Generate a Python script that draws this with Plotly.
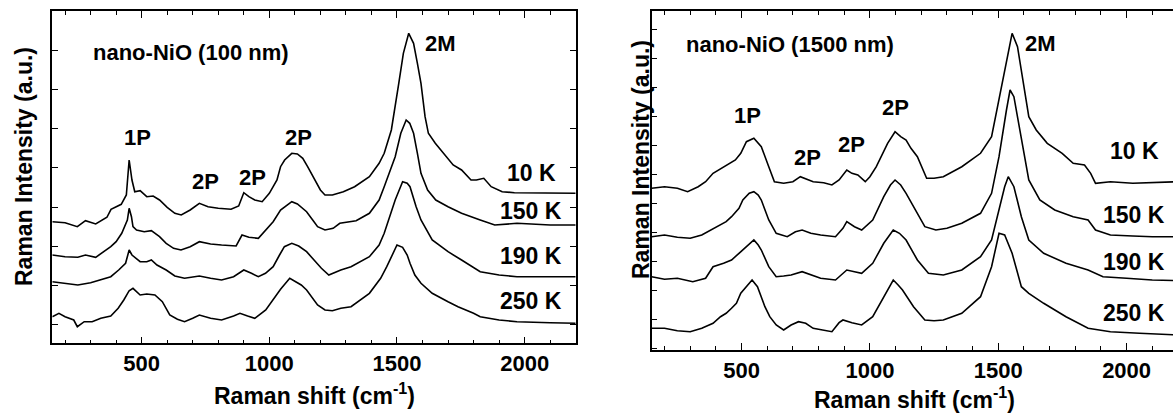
import plotly.graph_objects as go

# ---------------- Left panel: nano-NiO (100 nm) ----------------
L10_x = [150,200,248,280,320,364,380,420,440,451,462,473,494,520,545,570,600,630,655,690,726,760,800,850,880,900,920,943,972,1000,1030,1044,1060,1088,1110,1131,1150,1175,1200,1218,1247,1290,1334,1392,1430,1450,1478,1507,1525,1546,1565,1580,1594,1610,1623,1650,1681,1720,1753,1790,1811,1840,1869,1912,1960,2050,2200]
L10_y = [12.16,12.06,11.66,12.26,11.93,12.6,13.4,13.9,14.83,18.33,16.33,15.16,15.26,14.66,14.73,14.33,13.6,13.0,12.83,13.33,14.0,13.66,13.5,13.4,13.73,15.06,14.66,14.33,14.16,15.0,16.33,17.66,18.33,19.0,18.93,18.5,17.66,16.5,15.33,14.83,14.83,15.16,15.66,16.66,18.0,19.0,21.33,26.0,29.0,31.0,30.0,28.0,26.0,22.66,21.0,20.0,19.0,17.83,17.33,16.33,16.33,16.5,15.66,15.16,15.06,15.06,15.0]

L150_x = [150,200,250,280,320,379,400,422,444,451,460,466,480,510,538,570,596,625,654,690,726,770,813,870,893,920,957,986,1015,1044,1088,1110,1146,1175,1189,1218,1250,1276,1340,1392,1430,1450,1493,1515,1536,1550,1565,1580,1594,1620,1652,1700,1753,1826,1883,1970,2100,2200]
L150_y = [8.83,8.66,8.6,8.83,8.6,9.66,10.16,11.0,12.33,13.5,12.66,11.66,11.33,11.16,11.26,10.66,10.0,9.5,9.33,9.66,10.16,9.93,9.83,9.73,10.83,10.6,10.5,11.33,12.16,13.33,14.16,13.93,13.16,12.16,11.66,11.33,11.5,12.0,12.26,13.0,14.33,15.66,18.66,21.0,22.33,22.0,21.0,19.0,17.0,15.33,14.33,13.66,13.0,12.33,11.83,12.0,11.83,11.83]

L190_x = [150,200,250,300,340,379,410,437,451,462,494,520,538,560,596,630,668,700,726,770,813,860,900,930,957,985,1015,1040,1059,1088,1115,1146,1175,1204,1233,1280,1320,1392,1430,1450,1493,1510,1522,1540,1551,1575,1594,1638,1700,1753,1826,1900,1970,2100,2200]
L190_y = [6.16,6.0,5.83,6.06,6.33,6.66,7.33,8.0,9.33,8.83,8.16,8.16,8.33,7.83,7.33,6.73,6.5,6.66,6.73,6.5,6.33,6.66,7.33,7.0,6.66,7.0,7.66,8.83,9.66,10.0,9.73,9.16,8.33,7.5,6.83,7.33,7.66,8.66,9.83,11.0,14.33,15.5,16.16,16.0,15.66,13.66,12.33,10.33,9.16,8.33,7.16,6.83,6.66,6.66,6.66]

L250_x = [150,176,200,234,248,275,306,340,379,408,430,451,466,480,494,520,552,581,610,640,668,700,726,770,813,860,885,915,943,986,1015,1044,1080,1102,1125,1146,1175,1189,1218,1247,1280,1320,1392,1436,1460,1479,1500,1522,1540,1551,1570,1594,1638,1700,1739,1800,1826,1900,1970,2100,2200]
L250_y = [2.66,3.0,2.66,2.33,1.66,2.16,2.16,2.5,2.73,3.5,4.33,5.26,5.5,5.16,4.83,4.93,4.83,4.16,2.83,2.4,2.16,2.5,2.83,2.5,2.33,2.73,3.0,2.73,2.5,3.33,4.33,5.4,6.5,6.16,5.83,5.33,4.33,3.83,3.33,3.26,3.5,3.66,5.0,6.5,7.66,8.66,9.83,9.6,8.83,8.0,6.83,6.0,5.0,4.16,3.66,3.0,2.66,2.33,2.16,2.06,2.0]

# ---------------- Right panel: nano-NiO (1500 nm) ----------------
R10_x = [150,200,250,290,331,360,389,432,476,497,519,548,565,577,606,628,664,700,729,779,820,852,880,910,930,953,982,1000,1025,1069,1098,1120,1141,1160,1185,1221,1250,1286,1358,1431,1474,1503,1532,1554,1575,1597,1619,1648,1691,1749,1792,1836,1860,1879,1937,2024,2100,2200]
R10_y = [16.17,16.33,16.17,15.83,16.33,16.83,17.67,18.33,19.0,19.67,20.83,21.17,20.73,20.33,18.33,16.83,16.67,16.83,17.33,16.83,16.73,16.5,17.0,18.0,17.67,17.5,16.83,17.33,18.33,20.67,21.83,21.33,21.0,20.17,19.33,17.17,17.17,17.33,18.33,19.67,21.33,25.0,29.0,31.67,30.33,26.67,23.33,22.0,20.67,19.67,18.67,18.5,17.67,16.67,16.83,16.67,16.73,16.83]

R150_x = [150,200,250,300,345,403,440,461,490,505,530,548,565,577,606,635,678,710,736,770,808,866,895,910,940,968,1011,1054,1080,1098,1120,1141,1185,1214,1257,1300,1358,1431,1474,1503,1532,1546,1561,1590,1619,1662,1720,1792,1850,1879,1937,2024,2100,2200]
R150_y = [11.33,11.5,11.27,11.17,11.5,12.33,12.83,13.33,14.17,15.0,15.67,15.83,15.5,15.0,13.0,11.67,11.33,11.83,12.0,11.67,11.5,11.33,12.17,12.83,12.33,12.0,13.0,15.33,16.5,17.0,16.5,15.67,13.67,12.33,12.0,12.17,12.67,13.67,15.67,19.33,24.0,26.0,25.33,21.0,17.0,15.0,14.0,13.33,13.0,12.0,11.5,11.4,11.33,11.33]

R190_x = [150,200,250,310,360,389,430,461,490,519,548,565,577,606,635,664,693,736,770,808,866,910,940,968,1011,1054,1091,1115,1141,1185,1228,1286,1358,1431,1474,1503,1525,1539,1561,1590,1619,1677,1764,1850,1908,2000,2100,2200]
R190_y = [7.33,7.07,7.17,6.83,7.17,8.33,8.67,9.0,9.67,10.33,11.0,10.5,10.0,8.33,7.33,7.4,7.5,7.83,7.5,7.17,7.0,8.0,7.83,7.67,8.67,10.67,12.0,11.67,11.0,9.0,7.67,7.5,8.0,9.33,11.0,14.0,16.33,17.33,16.33,13.33,11.0,9.67,8.67,8.0,7.33,7.17,7.0,6.93]

R250_x = [150,200,250,300,345,389,418,440,461,480,497,519,541,562,591,610,635,664,693,722,750,779,820,852,880,895,930,968,1011,1054,1091,1110,1127,1170,1214,1250,1286,1358,1431,1474,1503,1525,1554,1590,1619,1677,1764,1850,1937,2050,2200]
R250_y = [2.17,2.17,1.93,1.83,2.17,2.67,3.33,3.67,4.17,4.67,5.67,6.33,7.0,6.33,4.33,3.33,2.5,2.0,2.5,2.83,2.67,2.17,2.0,1.83,2.73,3.0,2.73,2.5,3.33,5.33,7.0,6.5,6.0,4.33,3.0,2.93,3.0,3.67,5.33,8.33,11.67,11.5,9.67,6.33,5.67,4.67,3.33,2.17,1.83,1.67,1.5]

temps = ["10 K", "150 K", "190 K", "250 K"]
x_tickvals = [500, 1000, 1500, 2000]
x_ticktext = ["500", "1000", "1500", "2000"]

W, H = 1173, 414
FONT = "Arial, 'Liberation Sans', sans-serif"

def px(x):
    return x / W

def py(y):
    return 1 - y / H

fig = go.Figure()

left_series = [(L10_x, L10_y), (L150_x, L150_y), (L190_x, L190_y), (L250_x, L250_y)]
right_series = [(R10_x, R10_y), (R150_x, R150_y), (R190_x, R190_y), (R250_x, R250_y)]

for (xs, ys), t in zip(left_series, temps):
    fig.add_trace(go.Scatter(x=xs, y=ys, mode="lines", name=t, xaxis="x", yaxis="y",
                             line=dict(color="black", width=1.6), showlegend=False, hoverinfo="skip"))
for (xs, ys), t in zip(right_series, temps):
    fig.add_trace(go.Scatter(x=xs, y=ys, mode="lines", name=t, xaxis="x2", yaxis="y2",
                             line=dict(color="black", width=1.6), showlegend=False, hoverinfo="skip"))

common_x = dict(showgrid=False, zeroline=False, showline=True, linecolor="black", linewidth=1.5,
                ticks="inside", ticklen=7, tickwidth=1.2, tickcolor="black",
                tickvals=x_tickvals, ticktext=x_ticktext,
                tickfont=dict(family=FONT, size=22, color="black", weight="bold"),
                minor=dict(dtick=100, tick0=0, ticks="inside", ticklen=4, tickwidth=1.2, tickcolor="black"),
                ticklabelstandoff=0)
common_y = dict(showgrid=False, zeroline=False, showline=True, linecolor="black", linewidth=1.5,
                ticks="inside", ticklen=6, tickwidth=1.2, tickcolor="black",
                showticklabels=False)

fig.update_layout(
    width=W, height=H,
    margin=dict(l=0, r=0, t=0, b=0),
    paper_bgcolor="white", plot_bgcolor="white",
    xaxis=dict(domain=[px(52.3), px(575.7)], range=[150, 2200], anchor="y", mirror="ticks", **common_x),
    yaxis=dict(domain=[py(343.3), py(11)], range=[0, 33.23], anchor="x", mirror="ticks",
               tickmode="linear", tick0=1.897, dtick=3.909, **common_y),
    xaxis2=dict(domain=[px(651.7), 1.0], range=[150, 150 + (W - 651.7) / 0.2567], anchor="y2", mirror="ticks", **common_x),
    yaxis2=dict(domain=[py(350), py(11)], range=[0, 33.9], anchor="x2", mirror=False,
                tickmode="linear", tick0=3.07, dtick=2.9, **common_y),
)

def ann(text, x, y, size=22):
    fig.add_annotation(text=f"<b>{text}</b>", x=px(x), y=py(y), xref="paper", yref="paper",
                       showarrow=False, xanchor="center", yanchor="middle",
                       font=dict(family=FONT, size=size, color="black"))

# Left panel texts
ann("nano-NiO (100 nm)", 191, 52)
ann("1P", 137, 137)
ann("2P", 205, 182)
ann("2P", 252, 177)
ann("2P", 298, 137)
ann("2M", 441, 43)
for t, yy in zip(temps, [173, 211, 256, 301]):
    ann(t, 531, yy, 23)
ann("Raman shift (cm<sup>-1</sup>)", 314, 394, 23)
fig.add_annotation(text="<b>Raman Intensity (a.u.)</b>", x=px(24), y=py(167), xref="paper", yref="paper",
                   showarrow=False, textangle=-90, xanchor="center", yanchor="middle",
                   font=dict(family=FONT, size=23, color="black"))

# Right panel texts
ann("nano-NiO (1500 nm)", 790, 44)
ann("1P", 748, 115)
ann("2P", 807, 157)
ann("2P", 851, 144)
ann("2P", 895, 107)
ann("2M", 1040, 43)
for t, yy in zip(temps, [151, 215, 262, 313]):
    ann(t, 1134, yy, 23)
ann("Raman shift (cm<sup>-1</sup>)", 914, 398, 23)
fig.add_annotation(text="<b>Raman Intensity (a.u.)</b>", x=px(641), y=py(160), xref="paper", yref="paper",
                   showarrow=False, textangle=-90, xanchor="center", yanchor="middle",
                   font=dict(family=FONT, size=23, color="black"))

fig.write_html("out.html", config={"displayModeBar": False},
               post_script="document.body.style.margin='0';document.body.style.overflow='hidden';")
